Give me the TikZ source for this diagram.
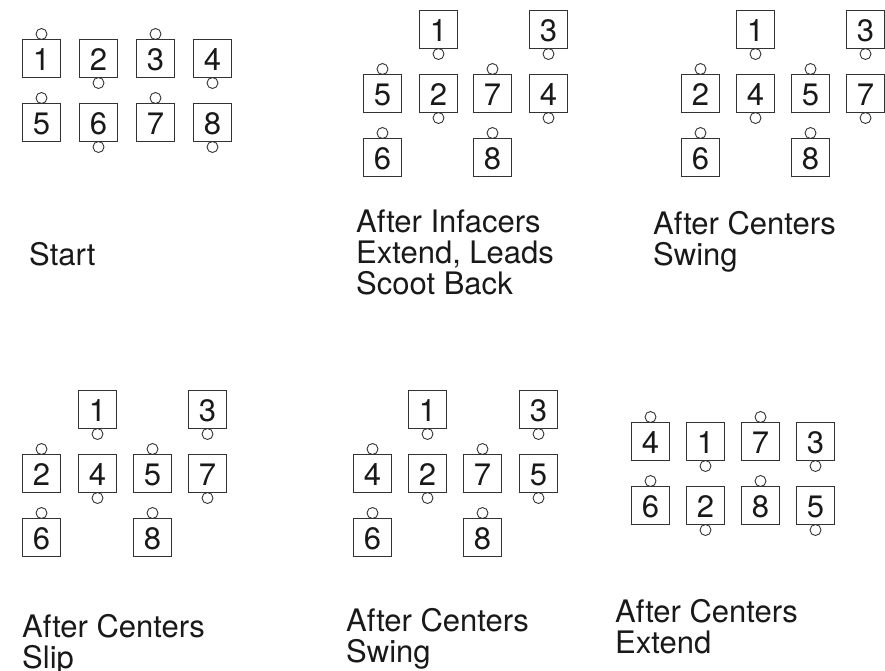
\documentclass[tikz,border=0pt]{standalone}
\usepackage{fontspec}
\setmainfont{TeX Gyre Heros}
\tikzset{
  dbox/.style={draw=black!80, line width=1.1pt, minimum size=38pt, inner sep=0pt, outer sep=0pt,
    font=\fontsize{31}{31}\selectfont, text height=23pt, text depth=0pt, text=black!90},
  nose/.style={draw=black!80, circle, line width=0.9pt, minimum size=11pt, inner sep=0pt, outer sep=0pt},
  lbl/.style={anchor=base west, inner sep=0pt, align=left, text=black!90,
    font=\fontsize{31}{31}\selectfont}
}
\newcommand\dup[4]{\node[dbox] (#1) at (#2,#3) {#4}; \node[nose,anchor=south] (#1n) at (#1.north) {};}
\newcommand\ddn[4]{\node[dbox] (#1) at (#2,#3) {#4}; \node[nose,anchor=north] (#1n) at (#1.south) {};}
\begin{document}
\begin{tikzpicture}[x=1pt,y=-1pt]
\useasboundingbox (0,0) rectangle (885,670);
% Panel 1: Start
\dup{a1}{41.5}{58.5}{1}
\ddn{a2}{98.5}{58.5}{2}
\dup{a3}{155.5}{58.5}{3}
\ddn{a4}{212.5}{58.5}{4}
\dup{a5}{41.5}{122.5}{5}
\ddn{a6}{98.5}{122.5}{6}
\dup{a7}{155.5}{122.5}{7}
\ddn{a8}{212.5}{122.5}{8}
\node[lbl] (la) at (29,265) {Start};
% Panel 2
\ddn{b1}{438.5}{29.5}{1}
\ddn{b3}{548.5}{29.5}{3}
\dup{b5}{382.5}{93.5}{5}
\ddn{b2}{438.5}{93.5}{2}
\dup{b7}{492.5}{93.5}{7}
\ddn{b4}{548.5}{93.5}{4}
\dup{b6}{382.5}{157.5}{6}
\dup{b8}{492.5}{157.5}{8}
\node[lbl] (lb) at (356,294) {After Infacers\\Extend, Leads\\Scoot Back};
% Panel 3
\ddn{c1}{755.5}{29.5}{1}
\ddn{c3}{865.5}{29.5}{3}
\dup{c2}{700.5}{93.5}{2}
\ddn{c4}{755.5}{93.5}{4}
\dup{c5}{810.5}{93.5}{5}
\ddn{c7}{865.5}{93.5}{7}
\dup{c6}{700.5}{157.5}{6}
\dup{c8}{810.5}{157.5}{8}
\node[lbl] (lc) at (653,265) {After Centers\\Swing};
% Panel 4
\ddn{d1}{97.5}{409.5}{1}
\ddn{d3}{207.5}{409.5}{3}
\dup{d2}{41.5}{473.5}{2}
\ddn{d4}{97.5}{473.5}{4}
\dup{d5}{152.5}{473.5}{5}
\ddn{d7}{207.5}{473.5}{7}
\dup{d6}{41.5}{537.5}{6}
\dup{d8}{152.5}{537.5}{8}
\node[lbl] (ld) at (22,668) {After Centers\\Slip};
% Panel 5
\ddn{e1}{427.5}{409.5}{1}
\ddn{e3}{538.5}{409.5}{3}
\dup{e4}{372.5}{473.5}{4}
\ddn{e2}{427.5}{473.5}{2}
\dup{e7}{482.5}{473.5}{7}
\ddn{e5}{538.5}{473.5}{5}
\dup{e6}{372.5}{537.5}{6}
\dup{e8}{482.5}{537.5}{8}
\node[lbl] (le) at (346,662) {After Centers\\Swing};
% Panel 6
\dup{f4}{650.5}{441.5}{4}
\ddn{f1}{705.5}{441.5}{1}
\dup{f7}{760.5}{441.5}{7}
\ddn{f3}{815.5}{441.5}{3}
\dup{f6}{650.5}{505.5}{6}
\ddn{f2}{705.5}{505.5}{2}
\dup{f8}{760.5}{505.5}{8}
\ddn{f5}{815.5}{505.5}{5}
\node[lbl] (lf) at (615,653) {After Centers\\Extend};
\end{tikzpicture}
\end{document}
